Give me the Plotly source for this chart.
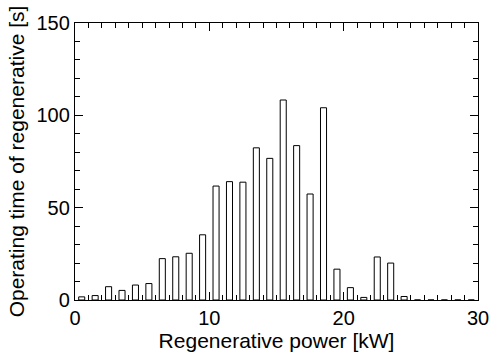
import plotly.graph_objects as go

power_kw = [i + 0.5 for i in range(30)]
operating_time_s = [1.7, 2.4, 7.2, 5.2, 8.1, 8.9, 22.4, 23.4, 25.3, 35.3,
                    61.7, 64.1, 63.8, 82.4, 76.7, 108.3, 83.6, 57.4, 104.1, 16.7,
                    6.7, 1.4, 23.3, 20.0, 1.9, 0, 0, 0, 0, 0]

fig = go.Figure()
fig.add_trace(go.Bar(
    x=power_kw, y=operating_time_s, width=0.45,
    marker=dict(color="white", line=dict(color="black", width=1)),
))

font = dict(family="Liberation Sans, Arial, sans-serif", color="black")
axis_common = dict(
    showline=True, linecolor="black", linewidth=1.3, mirror="ticks",
    ticks="inside", tickcolor="black", tickwidth=1,
    showgrid=False, zeroline=False,
    tickfont=dict(size=20, **font),
)

fig.update_xaxes(
    range=[0, 30], tickvals=[0, 10, 20, 30], ticklen=8,
    minor=dict(dtick=1, tick0=0, ticks="inside", ticklen=5, tickcolor="black", tickwidth=1),
    title=dict(text="Regenerative power [kW]", font=dict(size=21, **font), standoff=2),
    **axis_common,
)
fig.update_yaxes(
    range=[0, 150], tickvals=[0, 50, 100, 150], ticklen=8,
    minor=dict(dtick=10, tick0=0, ticks="inside", ticklen=5, tickcolor="black", tickwidth=1),
    title=dict(text="Operating time of regenerative [s]", font=dict(size=21, **font), standoff=6),
    **axis_common,
)

fig.update_layout(
    width=501, height=358,
    margin=dict(l=75, r=13, t=14, b=55),
    paper_bgcolor="white", plot_bgcolor="white",
    showlegend=False, font=font,
)

fig.write_html("out.html")
